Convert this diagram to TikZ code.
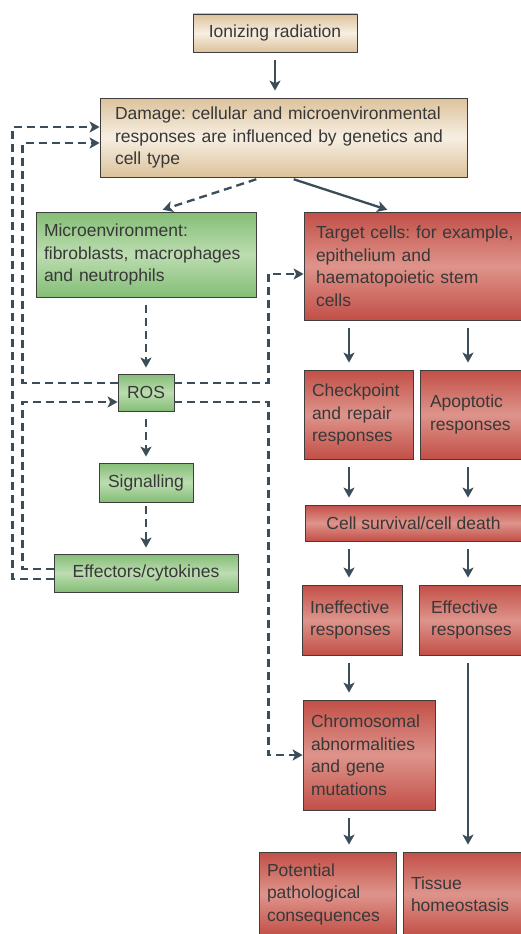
\documentclass[tikz,border=0pt]{standalone}
\usepackage{fontspec}
\setmainfont{Liberation Sans}
\frenchspacing
\usepackage{tikz}
\usetikzlibrary{
  arrows.meta,
  positioning
}
\definecolor{boxline}{HTML}{3E3E3E}
\definecolor{txt}{HTML}{383838}
\definecolor{arrowc}{HTML}{3A4D58}
\definecolor{beigeE}{HTML}{DCC29B}
\definecolor{beigeM}{HTML}{F7EFE2}
\definecolor{greenE}{HTML}{84BD76}
\definecolor{greenM}{HTML}{BCDDB0}
\definecolor{redE}{HTML}{C24F47}
\definecolor{redM}{HTML}{DE948B}

\begin{document}
\begin{tikzpicture}[x=1pt,y=-1pt,>={Stealth[length=10pt,width=11pt,inset=2.5pt]},
  box/.style={draw=boxline,line width=0.8pt,text=txt,align=left,inner xsep=8pt,inner ysep=0pt,
    font=\fontsize{17.5}{22.5}\selectfont},
  beige/.style={box,top color=beigeE,bottom color=beigeE,middle color=beigeM},
  green/.style={box,top color=greenE,bottom color=greenE,middle color=greenM},
  red/.style={box,top color=redE,bottom color=redE,middle color=redM},
  flow/.style={->,draw=arrowc,line width=2.3pt,shorten <=8pt,shorten >=7pt},
  loop/.style={->,draw=arrowc,line width=2.3pt,dash pattern=on 8pt off 5pt}]
\useasboundingbox (0,0) rectangle (520,934);

% beige
\node (ion) [beige,align=center,minimum width=164pt,minimum height=38pt] at (275,33) {Ionizing radiation};
\node (dmg) [beige,inner xsep=15pt,text width=337pt,minimum height=79pt] at (283.5,137.5)
  {Damage: cellular and microenvironmental\\responses are influenced by genetics and\\cell type};

% green, left column
\node (micro) [green,text width=204pt,minimum height=85pt] at (146,254.5)
  {Microenvironment:\\fibroblasts, macrophages\\and neutrophils};
\node (ros) [green,align=center,minimum width=56pt,minimum height=37pt] at (146,392.5) {ROS};
\node (sig) [green,align=center,minimum width=94pt,minimum height=39pt] at (146,482.5) {Signalling};
\node (eff) [green,align=center,minimum width=184pt,minimum height=38pt] at (146,573) {Effectors/cytokines};

% red, right column
\node (target) [red,inner xsep=12pt,text width=215pt,minimum height=108pt] at (423.5,266)
  {Target cells: for example,\\epithelium and\\haematopoietic stem\\cells};
\node (chk) [red,text width=93pt,minimum height=89pt] at (358.5,414.5)
  {Checkpoint\\and repair\\responses};
\node (apo) [red,inner xsep=10pt,text width=82pt,minimum height=89pt] at (471,414.5)
  {Apoptotic\\responses};
\node (surv) [red,align=center,minimum width=217pt,minimum height=36pt] at (413.5,523)
  {Cell survival/cell death};
\node (ineff) [red,text width=84pt,minimum height=70pt] at (352,620)
  {Ineffective\\responses};
\node (effct) [red,inner xsep=12pt,text width=79pt,minimum height=70pt] at (470.5,620)
  {Effective\\responses};
\node (chrom) [red,text width=116pt,minimum height=110pt] at (369,755)
  {Chromosomal\\abnormalities\\and gene\\mutations};
\node (pot) [red,text width=121pt,minimum height=84pt] at (327.5,894)
  {Potential\\pathological\\consequences};
\node (tis) [red,text width=103pt,minimum height=84pt] at (462.5,894)
  {Tissue\\homeostasis};

\coordinate (colL) at (349,0);
\coordinate (colR) at (468,0);

% solid arrows
\draw[flow] (ion) -- (ion |- dmg.north);
\draw[flow,shorten <=6pt,shorten >=6pt] ([xshift=4.5pt]dmg.south) -- ([xshift=-30.5pt]target.north);
\draw[flow] (target.south -| colL) -- (chk.north -| colL);
\draw[flow] (target.south -| colR) -- (apo.north -| colR);
\draw[flow] (chk.south -| colL) -- (surv.north -| colL);
\draw[flow] (apo.south -| colR) -- (surv.north -| colR);
\draw[flow] (surv.south -| colL) -- (ineff.north -| colL);
\draw[flow] (surv.south -| colR) -- (effct.north -| colR);
\draw[flow] (ineff.south -| colL) -- (chrom.north -| colL);
\draw[flow] (chrom.south -| colL) -- (pot.north -| colL);
\draw[flow] (effct.south -| colR) -- (tis.north -| colR);

% dashed arrows
\draw[loop,shorten <=6pt,shorten >=6pt] ([xshift=-21.5pt]dmg.south) -- ([xshift=11pt]micro.north);
\draw[loop,shorten <=8pt,shorten >=6pt] (micro) -- (ros);
\draw[loop,shorten <=8pt,shorten >=6pt] (ros) -- (sig);
\draw[loop,shorten <=4pt,shorten >=6pt] (sig) -- (eff);
\draw[loop] ([yshift=-6pt]eff.west) -- ++(-41,0) |- ([yshift=10.5pt]dmg.west);
\draw[loop] ([yshift=4pt]eff.west) -- ++(-31,0) |- ([yshift=-9.5pt]ros.west);
\draw[loop] ([yshift=9.5pt]ros.west) -- ++(-95,0) |- ([yshift=-5.5pt]dmg.west);
\draw[loop] ([yshift=9.5pt]ros.east) -- ++(94,0) |- ([yshift=-8pt]target.west);
\draw[loop] ([yshift=-9.5pt]ros.east) -- ++(94,0) |- (chrom.west);
\end{tikzpicture}
\end{document}
